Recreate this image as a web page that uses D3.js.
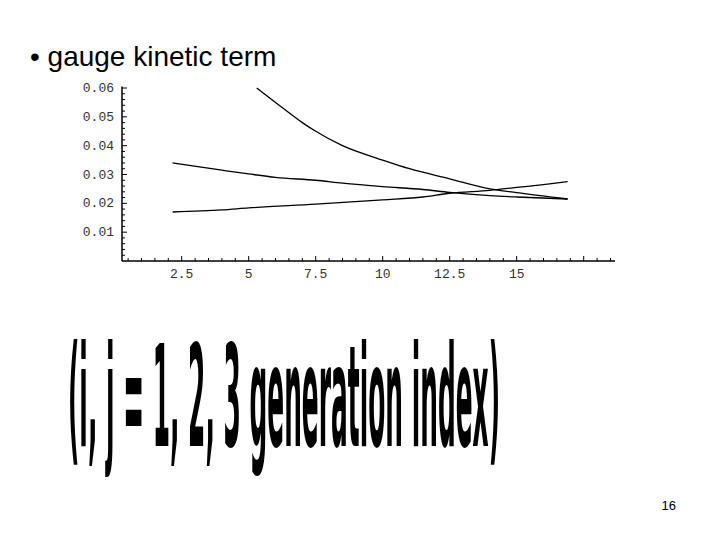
<!DOCTYPE html>
<html><head><meta charset="utf-8">
<script src="https://cdn.jsdelivr.net/npm/d3@7"></script>
<style>body{margin:0;background:#fff}</style>
</head><body>
<svg id="c" width="720" height="540"></svg>
<script>
// curve samples
const upperX = [5.3, 6, 7, 7.5, 8.5, 10, 11, 12.5, 14, 15, 16.9];
const upperY = [0.06, 0.055, 0.048, 0.045, 0.040, 0.035, 0.032, 0.0285, 0.025, 0.0237, 0.0215];
const middleX = [2.16, 4, 5, 6, 7.5, 8.5, 10, 11.5, 12.5, 14, 15, 16.9];
const middleY = [0.034, 0.0315, 0.0302, 0.029, 0.028, 0.027, 0.0258, 0.0248, 0.0238, 0.0227, 0.0222, 0.0215];
const lowerX = [2.16, 4, 5, 7.5, 10, 11.5, 12.5, 14, 15, 16, 16.9];
const lowerY = [0.017, 0.0177, 0.0184, 0.0197, 0.0212, 0.0222, 0.0235, 0.0245, 0.0255, 0.0265, 0.0275];
const xTicks = [2.5, 5, 7.5, 10, 12.5, 15];
const yTicks = [0.01, 0.02, 0.03, 0.04, 0.05, 0.06];

const svg = d3.select('#c');
const x = d3.scaleLinear().domain([0, 2.5]).range([114.7, 181.7]);
const y = d3.scaleLinear().domain([0, 0.06]).range([261, 88]);
const x0 = x.invert(122), x1 = x.invert(615);

svg.append('text').attr('x', 30).attr('y', 66).attr('font-family', 'Liberation Sans, Arial')
    .attr('font-size', 28).text('• gauge kinetic term');

const g = svg.append('g').attr('stroke', '#000').attr('fill', 'none');
g.append('line').attr('x1', x(x0)).attr('x2', x(x1)).attr('y1', y(0)).attr('y2', y(0)).attr('stroke-width', 1.5);
g.append('line').attr('x1', x(x0)).attr('x2', x(x0)).attr('y1', y(0)).attr('y2', y(0.0605)).attr('stroke-width', 1.5);

// minor + major ticks
d3.range(0.002, 0.0601, 0.002).forEach(v => {
    const major = Math.abs(v * 100 - Math.round(v * 100)) < 1e-6;
    g.append('line').attr('x1', x(x0)).attr('x2', x(x0) + (major ? 5 : 3)).attr('y1', y(v)).attr('y2', y(v));
});
d3.range(0.5, 18.6, 0.5).forEach(v => {
    const major = Math.abs(v / 2.5 - Math.round(v / 2.5)) < 1e-6;
    g.append('line').attr('x1', x(v)).attr('x2', x(v)).attr('y1', y(0)).attr('y2', y(0) - (major ? 5 : 3));
});

const lab = svg.append('g').attr('font-family', 'Liberation Mono, DejaVu Sans Mono').attr('font-size', 13).attr('fill', '#333');
yTicks.forEach(v => lab.append('text').attr('x', x(x0) - 8).attr('y', y(v) + 4)
    .attr('text-anchor', 'end').text(v.toFixed(2)));
xTicks.forEach(v => lab.append('text').attr('x', x(v)).attr('y', y(0) + 17)
    .attr('text-anchor', 'middle').text(v));

const line = d3.line().x(d => x(d[0])).y(d => y(d[1])).curve(d3.curveMonotoneX);
[[upperX, upperY], [middleX, middleY], [lowerX, lowerY]].forEach(([xs, ys]) => {
    g.append('path').attr('d', line(xs.map((v, i) => [v, ys[i]]))).attr('stroke-width', 1.3);
});

svg.append('text').attr('x', 68).attr('y', 446).attr('font-family', 'DejaVu Sans Condensed, DejaVu Sans')
    .attr('font-weight', 'bold').attr('font-size', 140).attr('textLength', 432)
    .attr('lengthAdjust', 'spacingAndGlyphs')
    .text('(i, j = 1, 2, 3 generation index)');

svg.append('text').attr('x', 676).attr('y', 510).attr('text-anchor', 'end')
    .attr('font-family', 'Liberation Sans, Arial').attr('font-size', 13).text('16');
</script>
</body></html>
